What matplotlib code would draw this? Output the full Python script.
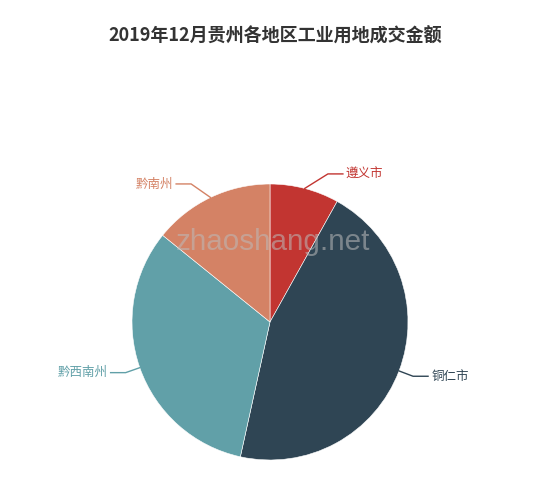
import numpy as np
import matplotlib.pyplot as plt

plt.rcParams['font.family'] = ['Noto Sans CJK SC', 'DejaVu Sans']

regions = ["遵义市", "铜仁市", "黔西南州", "黔南州"]
values = [8.1, 45.4, 32.4, 14.2]
colors = ["#c23531", "#2f4554", "#61a0a8", "#d48265"]

W, H = 550, 490
fig = plt.figure(figsize=(W / 100, H / 100), dpi=100)
ax = fig.add_axes([0, 0, 1, 1])
ax.set_xlim(0, W)
ax.set_ylim(0, H)
ax.set_aspect("equal")
ax.axis("off")

cx, cy, r = 270, H - 322, 138
wedges, _ = ax.pie(values, colors=colors, startangle=90, counterclock=False,
                   center=(cx, cy), radius=r,
                   wedgeprops=dict(edgecolor="white", linewidth=0.4))
ax.set_xlim(0, W)
ax.set_ylim(0, H)

# label lines, roughly like echarts does them
for w, name, c in zip(wedges, regions, colors):
    mid = np.deg2rad((w.theta1 + w.theta2) / 2)
    x0, y0 = cx + r * np.cos(mid), cy + r * np.sin(mid)
    dy = (r + 15) * np.sin(mid)
    dx = abs((r + 15) * np.cos(mid))
    if abs(np.sin(mid)) > 0.7:
        # labels near the top get pushed out onto an ellipse
        dx = max(dx, np.sqrt((r + 21) ** 2 - dy ** 2))
    side = 1 if np.cos(mid) >= 0 else -1
    x1, y1 = cx + side * dx, cy + dy
    x2 = x1 + 15 * side
    ax.plot([x0, x1, x2], [y0, y1, y1], color=c, lw=1)
    ax.text(x2 + 3 * side, y1, name, color=c, fontsize=9,
            ha="left" if side > 0 else "right", va="center")

ax.text(W / 2, H - 36, "2019年12月贵州各地区工业用地成交金额", ha="center", va="center",
        fontsize=13, fontweight="bold", color="#333333")

# watermark
ax.text(273, H - 242, "zhaoshang.net", ha="center", va="center",
        fontsize=21.3, color="#bbbbbb", alpha=0.55, family="Liberation Sans")

fig.savefig("out.png", dpi=100)
